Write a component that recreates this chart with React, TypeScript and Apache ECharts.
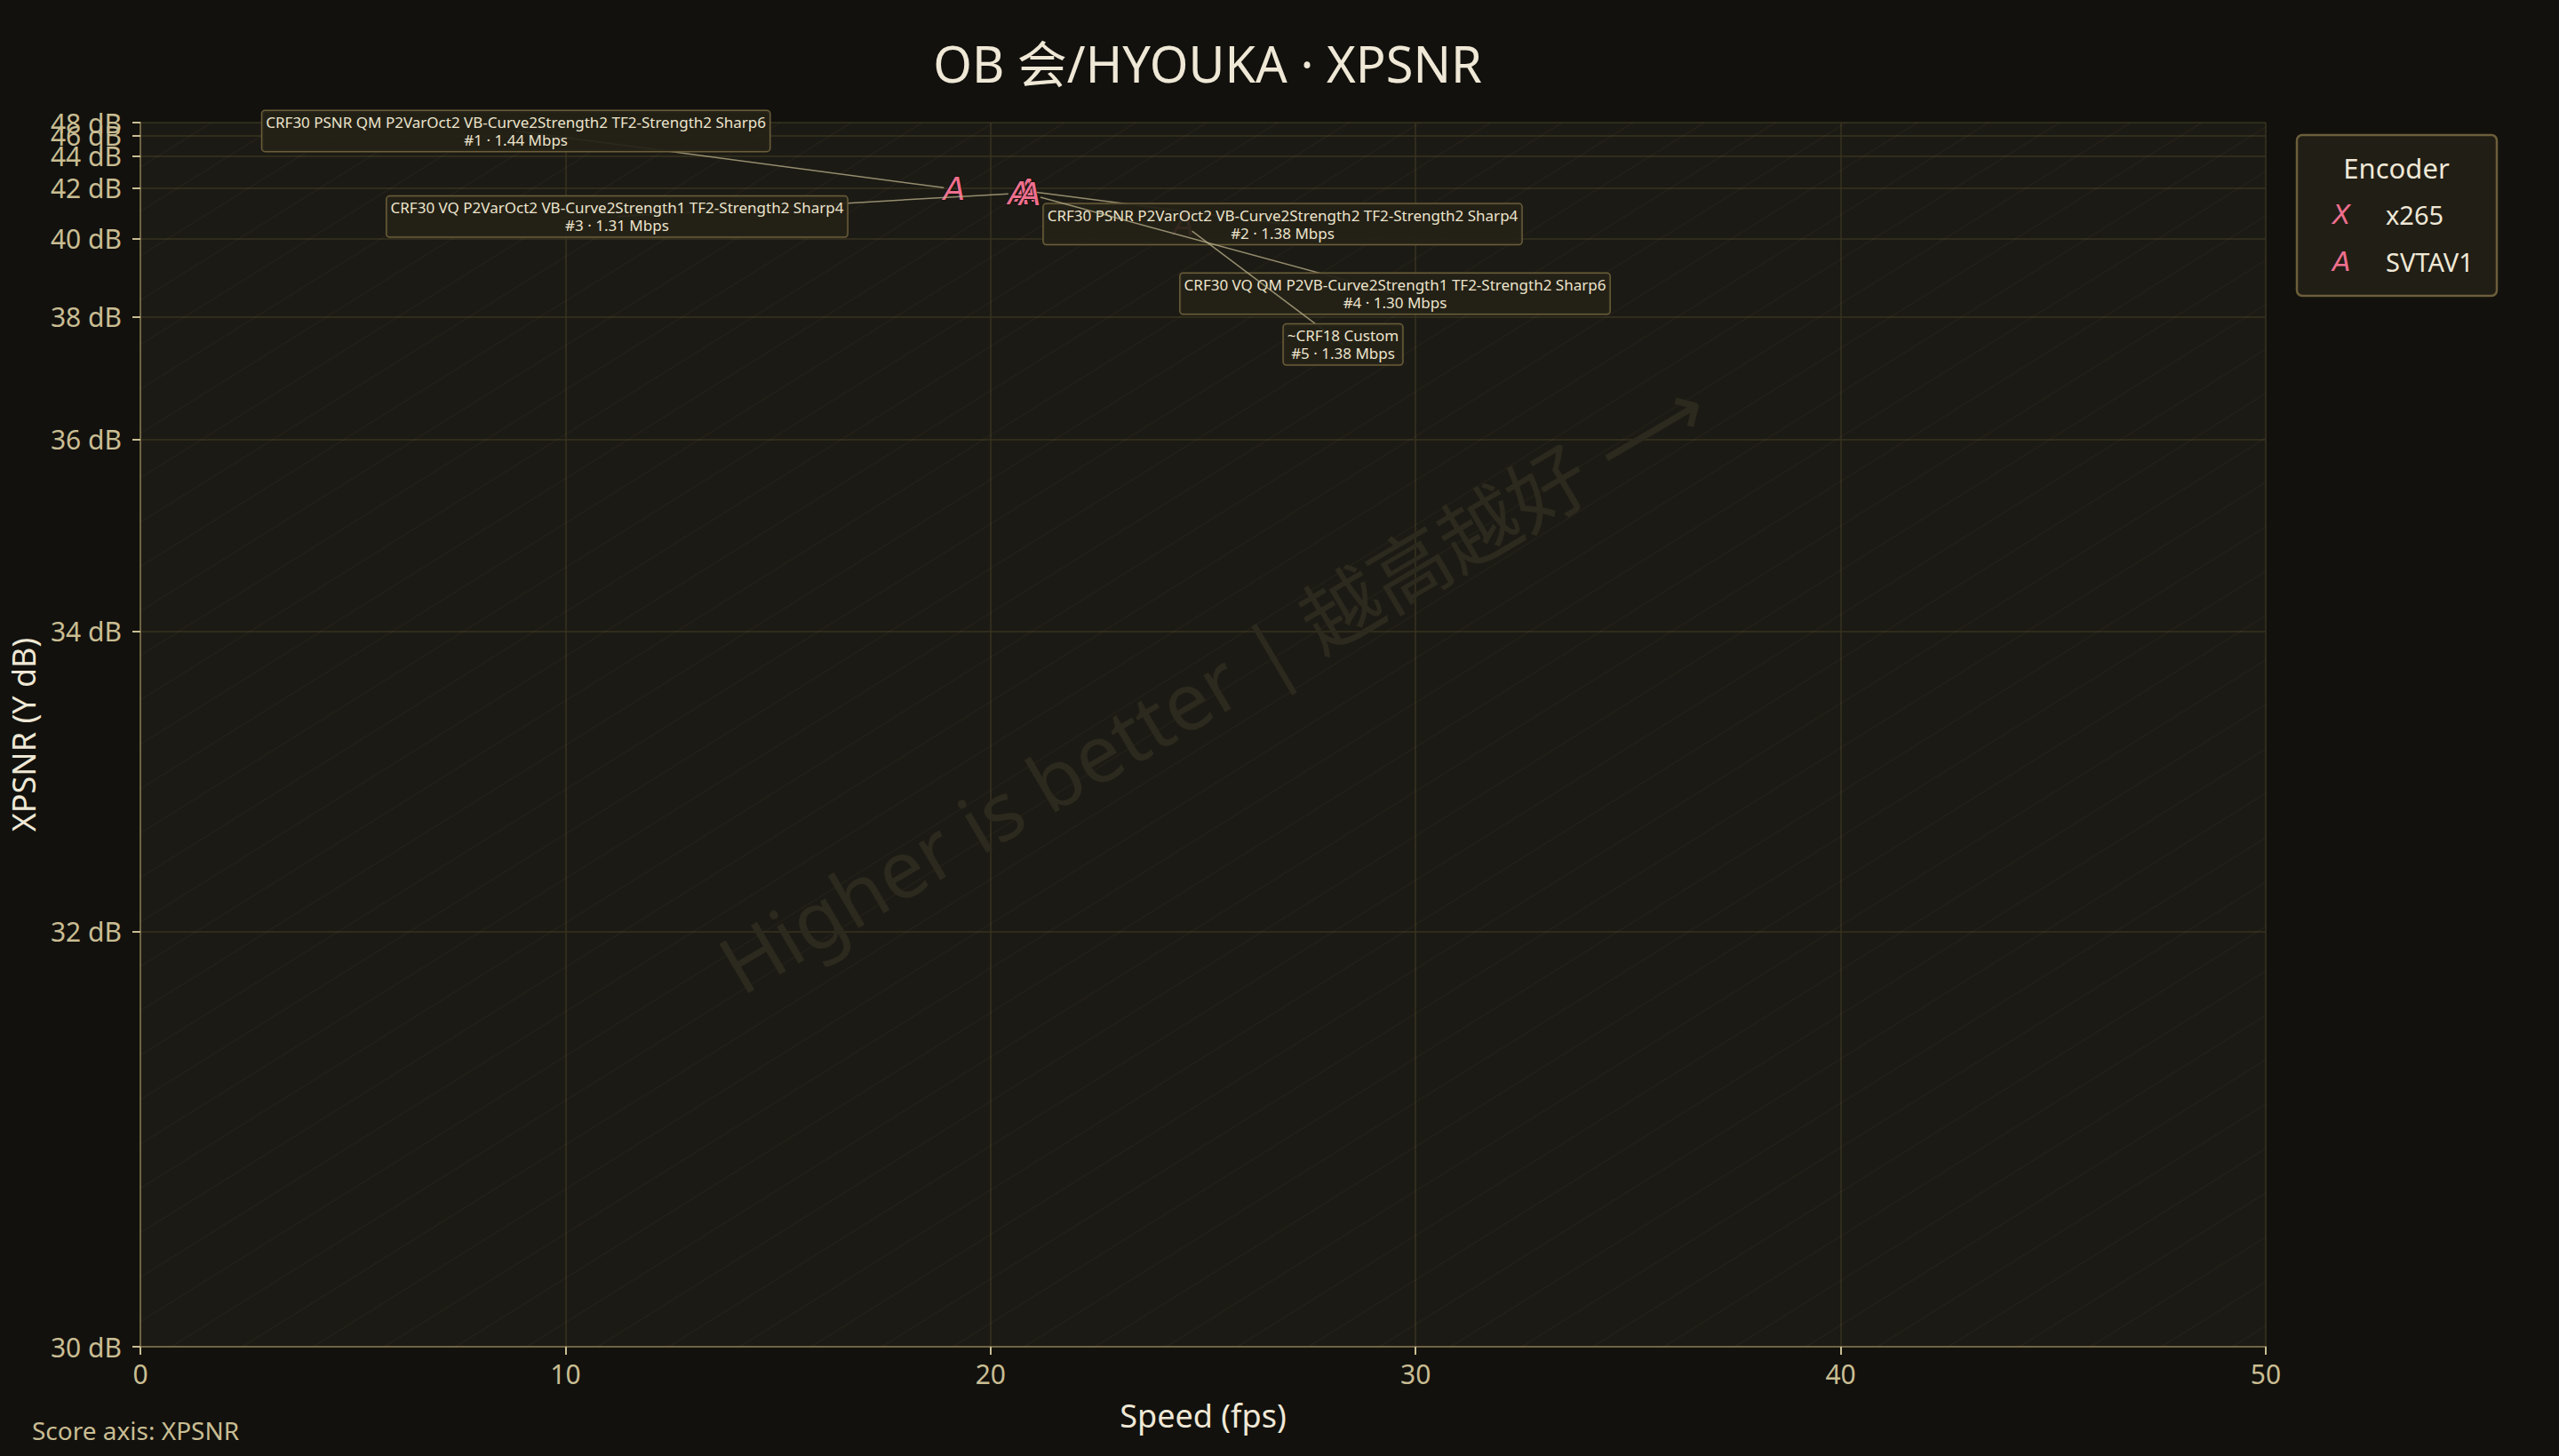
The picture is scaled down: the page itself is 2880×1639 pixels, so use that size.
import React, { useEffect, useRef } from 'react';
import * as echarts from 'echarts';

// ---------- data ----------
const ENCODERS = ['x265', 'SVTAV1'];
const ENCODER_GLYPHS = ['X', 'A'];
const PRESETS = [
  'CRF30 PSNR QM P2VarOct2 VB-Curve2Strength2 TF2-Strength2 Sharp6',
  'CRF30 PSNR P2VarOct2 VB-Curve2Strength2 TF2-Strength2 Sharp4',
  'CRF30 VQ P2VarOct2 VB-Curve2Strength1 TF2-Strength2 Sharp4',
  'CRF30 VQ QM P2VB-Curve2Strength1 TF2-Strength2 Sharp6',
  '~CRF18 Custom',
];
const RANKS = [1, 2, 3, 4, 5];
const BITRATE_MBPS = [1.44, 1.38, 1.31, 1.3, 1.38];
const SPEED_FPS = [19.15, 20.84, 20.67, 20.93, 24.54];
const XPSNR_DB = [41.96, 41.87, 41.76, 41.7, 40.47];
const Y_TICKS_DB = [30, 32, 34, 36, 38, 40, 42, 44, 46, 48];
// tick whose label collides with the top one; drawn on an overlay axis
const Y_OVERLAY_TICKS_DB = [46];
const X_MIN = 0;
const X_MAX = 50;
const X_INTERVAL = 10;
const Y_MIN_DB = 30.19;
const Y_MAX_DB = 48;

// ---------- layout / style ----------
const W = 2880;
const H = 1639;
const GRID = { left: 158, top: 138, right: 330, bottom: 123 };
// label box centre offsets from each point, in px
const LABEL_OFFSETS = [
  [-493.5, -65.5],
  [288.5, 37.4],
  [-452.4, 26.3],
  [410.7, 111.6],
  [179.5, 135],
];
const BG = '#12110d';
const PLOT_BG = '#1c1a14';
const GRID_C = '#37331f';
const OLIVE = '#6f6343';
const TAN = '#c9bd93';
const CREAM = '#efe8d6';
const PINK = '#ef6f8e';
const FONT = '"Noto Sans", "Noto Sans CJK SC", sans-serif';
const GLYPH_FONT = '"DejaVu Sans", sans-serif';

// score axis: linear in 10^(-dB/k) (error-energy like scale)
const SCALE_K = 10.3;
const T = (d: number) => -1e5 * Math.pow(10, -d / SCALE_K);
const invT = (v: number) => -SCALE_K * Math.log10(-v / 1e5);

function hatchLines() {
  const L = GRID.left;
  const R = W - GRID.right;
  const Tp = GRID.top;
  const B = H - GRID.bottom;
  const ht = B - Tp;
  const tan = Math.tan((32 * Math.PI) / 180);
  const out: any[] = [];
  for (let x0 = L - ht / tan; x0 < R; x0 += 80) {
    let xa = x0;
    let ya = B;
    let xb = x0 + ht / tan;
    let yb = Tp;
    if (xa < L) {
      ya = B - (L - x0) * tan;
      xa = L;
    }
    if (xb > R) {
      yb = B - (R - x0) * tan;
      xb = R;
    }
    if (ya <= yb) continue;
    out.push({
      type: 'line',
      silent: true,
      z: 1,
      shape: { x1: xa, y1: ya, x2: xb, y2: yb },
      style: { stroke: 'rgba(210,195,140,0.045)', lineWidth: 1.5 },
    });
  }
  return out;
}

export default function App() {
  const ref = useRef<HTMLDivElement>(null);

  useEffect(() => {
    document.body.style.margin = '0';
    document.body.style.background = BG;
    const chart = echarts.init(ref.current!, null, { renderer: 'svg' });

    const points = SPEED_FPS.map((x, i) => [x, T(XPSNR_DB[i]), i]);
    const yTickVals = Y_TICKS_DB.map((d) => T(Math.max(d, Y_MIN_DB)));
    const yMainLabelVals = Y_TICKS_DB.filter((d) => !Y_OVERLAY_TICKS_DB.includes(d)).map((d) =>
      T(Math.max(d, Y_MIN_DB))
    );
    const yOverlayVals = Y_OVERLAY_TICKS_DB.map((d) => T(d));
    const yLabelFmt = (v: number) => `${Math.round(invT(v))} dB`;
    const yLabelStyle = {
      formatter: yLabelFmt,
      color: TAN,
      fontSize: 30,
      margin: 21,
      fontFamily: FONT,
      hideOverlap: false,
    };

    const option: any = {
      animation: false,
      backgroundColor: BG,
      title: {
        text: 'OB 会/HYOUKA · XPSNR',
        left: GRID.left + (W - GRID.left - GRID.right) / 2,
        top: 38,
        textAlign: 'center',
        textStyle: { color: CREAM, fontSize: 56, fontWeight: 'normal', fontFamily: FONT },
      },
      grid: {
        left: GRID.left,
        top: GRID.top,
        right: GRID.right,
        bottom: GRID.bottom,
        show: true,
        backgroundColor: PLOT_BG,
        borderWidth: 0,
        containLabel: false,
        outerBoundsMode: 'none',
      },
      legend: {
        left: 2618,
        top: 226,
        orient: 'vertical',
        itemGap: 23,
        itemWidth: 2,
        itemHeight: 2,
        padding: 0,
        selectedMode: false,
        data: ENCODERS.map((name) => ({ name, icon: 'circle', itemStyle: { opacity: 0 } })),
        formatter: (name: string) =>
          `{g|${ENCODER_GLYPHS[ENCODERS.indexOf(name)]}}{t|${name}}`,
        textStyle: {
          rich: {
            g: {
              fontFamily: GLYPH_FONT,
              fontStyle: 'italic',
              fontSize: 30,
              color: PINK,
              width: 60,
              lineHeight: 36,
            },
            t: { fontFamily: FONT, fontSize: 29, color: CREAM, lineHeight: 36 },
          },
        },
      },
      xAxis: {
        type: 'value',
        min: X_MIN,
        max: X_MAX,
        interval: X_INTERVAL,
        name: 'Speed (fps)',
        nameLocation: 'middle',
        nameGap: 59,
        nameTextStyle: { color: CREAM, fontSize: 36, fontFamily: FONT },
        axisLine: { show: true, onZero: false, lineStyle: { color: OLIVE, width: 2 } },
        axisTick: { show: true, length: 9, lineStyle: { color: TAN, width: 2 } },
        axisLabel: { color: TAN, fontSize: 30, margin: 15, fontFamily: FONT },
        splitLine: { show: true, lineStyle: { color: GRID_C, width: 1.5 } },
      },
      yAxis: [
        {
          type: 'value',
          min: T(Y_MIN_DB),
          max: T(Y_MAX_DB),
          name: 'XPSNR (Y dB)',
          nameLocation: 'middle',
          nameGap: 114,
          nameTextStyle: { color: CREAM, fontSize: 36, fontFamily: FONT },
          axisLine: { show: true, onZero: false, lineStyle: { color: OLIVE, width: 2 } },
          axisTick: {
            show: true,
            length: 9,
            lineStyle: { color: TAN, width: 2 },
            customValues: yTickVals,
          },
          axisLabel: {
            ...yLabelStyle,
            customValues: yMainLabelVals,
            showMinLabel: true,
            showMaxLabel: true,
          },
          splitLine: { show: true, lineStyle: { color: GRID_C, width: 1.5 } },
        },
        {
          type: 'value',
          position: 'left',
          offset: 0,
          min: T(Y_MIN_DB),
          max: T(Y_MAX_DB),
          axisLine: { show: false },
          axisTick: { show: false, customValues: yOverlayVals },
          axisLabel: {
            ...yLabelStyle,
            customValues: yOverlayVals,
            showMinLabel: true,
            showMaxLabel: true,
          },
          splitLine: { show: false },
        },
      ],
      graphic: [
        ...hatchLines(),
        {
          type: 'text',
          silent: true,
          z: 1,
          x: 1364,
          y: 770,
          rotation: (30.5 * Math.PI) / 180,
          style: {
            text: 'Higher is better | 越高越好 ⟶',
            fill: '#2c291e',
            fontSize: 90,
            fontFamily: FONT,
            align: 'center',
            verticalAlign: 'middle',
          },
        },
        {
          type: 'rect',
          z: 1,
          silent: true,
          shape: { x: 2585, y: 152, width: 225, height: 181, r: 6 },
          style: { fill: '#211e16', stroke: '#6b5e3a', lineWidth: 2.5 },
        },
        {
          type: 'text',
          z: 5,
          silent: true,
          x: 2697,
          y: 189,
          style: {
            text: 'Encoder',
            fill: CREAM,
            fontSize: 31,
            fontFamily: FONT,
            align: 'center',
            verticalAlign: 'middle',
          },
        },
        {
          type: 'text',
          silent: true,
          x: 36,
          y: 1610,
          style: {
            text: 'Score axis: XPSNR',
            fill: TAN,
            fontSize: 28,
            fontFamily: FONT,
            align: 'left',
            verticalAlign: 'middle',
          },
        },
      ],
      series: [
        {
          name: 'x265',
          type: 'scatter',
          data: [],
          itemStyle: { color: PINK },
        },
        {
          name: 'SVTAV1',
          type: 'custom',
          coordinateSystem: 'cartesian2d',
          clip: false,
          z: 3,
          data: points,
          encode: { x: 0, y: 1 },
          renderItem: (params: any, api: any) => {
            const p = api.coord([api.value(0), api.value(1)]);
            return {
              type: 'text',
              x: p[0],
              y: p[1],
              style: {
                text: 'A',
                fontFamily: GLYPH_FONT,
                fontStyle: 'italic',
                fontSize: 36,
                fill: PINK,
                stroke: '#15130e',
                lineWidth: 2,
                align: 'center',
                verticalAlign: 'middle',
              },
            };
          },
        },
        {
          name: 'annotations',
          type: 'custom',
          coordinateSystem: 'cartesian2d',
          clip: false,
          z: 5,
          data: points,
          encode: { x: 0, y: 1 },
          renderItem: (params: any, api: any) => {
            const i = params.dataIndex;
            const p = api.coord([api.value(0), api.value(1)]);
            const off = LABEL_OFFSETS[i];
            const cx = p[0] + off[0];
            const cy = p[1] + off[1];
            const dx = p[0] - cx;
            const dy = p[1] - cy;
            const len = Math.hypot(dx, dy);
            const ex = p[0] - (dx / len) * 12;
            const ey = p[1] - (dy / len) * 12;
            const text = `${PRESETS[i]}\n#${RANKS[i]} · ${BITRATE_MBPS[i].toFixed(2)} Mbps`;
            return {
              type: 'group',
              children: [
                {
                  type: 'line',
                  shape: { x1: cx, y1: cy, x2: ex, y2: ey },
                  style: { stroke: 'rgba(190,180,142,0.75)', lineWidth: 1.5 },
                },
                {
                  type: 'text',
                  x: cx,
                  y: cy,
                  style: {
                    text,
                    fill: '#ece4cc',
                    fontSize: 17,
                    fontFamily: FONT,
                    lineHeight: 20,
                    align: 'center',
                    verticalAlign: 'middle',
                    backgroundColor: 'rgba(36,33,23,0.93)',
                    borderColor: '#6b5e3a',
                    borderWidth: 1.5,
                    borderRadius: 3,
                    padding: [3, 4, 2, 4],
                  },
                },
              ],
            };
          },
        },
      ],
    };

    chart.setOption(option);
    return () => chart.dispose();
  }, []);

  return (
    <div
      ref={ref}
      style={{ position: 'fixed', left: 0, top: 0, width: `${W}px`, height: `${H}px` }}
    />
  );
}
